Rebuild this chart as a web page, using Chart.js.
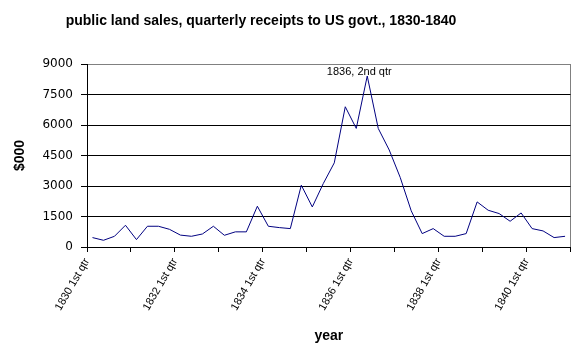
<!DOCTYPE html>
<html>
<head>
<meta charset="utf-8">
<script src="https://cdn.jsdelivr.net/npm/chart.js@4.4.1/dist/chart.umd.min.js"></script>
<style>
  html, body { margin: 0; padding: 0; background: #fff; }
  #wrap { width: 586px; height: 355px; }
</style>
</head>
<body>
<div id="wrap"><canvas id="c" width="586" height="355"></canvas></div>
<script>
// ---- data ----
const years = [1830, 1831, 1832, 1833, 1834, 1835, 1836, 1837, 1838, 1839, 1840];
const quarterNames = ['1st qtr', '2nd qtr', '3rd qtr', '4th qtr'];
const categories = [];
years.forEach(y => quarterNames.forEach(q => categories.push(y + ' ' + q)));

const receipts = [
  463, 330, 527, 1069,
  364, 1020, 1020, 870,
  585, 527, 640, 1020,
  576, 745, 745, 2005,
  1020, 954, 905, 3039,
  1970, 3120, 4138, 6897,
  5832, 8409, 5832, 4770,
  3420, 1780, 659, 905,
  527, 527, 659, 2217,
  1808, 1644, 1266, 1675,
  905, 790, 463, 527
];

const yTicks = [0, 1500, 3000, 4500, 6000, 7500, 9000];
const chartTitle = 'public land sales, quarterly receipts to US govt., 1830-1840';
const yTitle = '$000';
const xTitle = 'year';
const annotationText = '1836, 2nd qtr';
const annotationIndex = 25;

const points = receipts.map((v, i) => ({ x: i + 0.5, y: v }));

const titlePlugin = {
  id: 'titlePlugin',
  afterDraw(chart) {
    const ctx = chart.ctx;
    ctx.save();
    ctx.fillStyle = '#000';
    ctx.font = 'bold 14px "Liberation Sans", Arial, sans-serif';
    ctx.textAlign = 'center';
    ctx.textBaseline = 'alphabetic';
    ctx.fillText(chartTitle, 261, 25);
    // annotation near peak
    const xs = chart.scales.x, ys = chart.scales.y;
    const px = xs.getPixelForValue(annotationIndex + 0.5);
    const py = ys.getPixelForValue(receipts[annotationIndex]);
    ctx.font = '11px "Liberation Sans", Arial, sans-serif';
    ctx.fillText(annotationText, px - 8, py - 1);
    ctx.restore();
  }
};

new Chart(document.getElementById('c'), {
  type: 'line',
  data: {
    datasets: [{
      data: points,
      borderColor: '#000080',
      borderWidth: 1,
      pointRadius: 0,
      tension: 0,
      fill: false
    }]
  },
  options: {
    responsive: false,
    animation: false,
    devicePixelRatio: 1,
    layout: { padding: { top: 64, right: 4, left: 0, bottom: 0 } },
    plugins: {
      legend: { display: false },
      tooltip: { enabled: false },
      title: { display: false }
    },
    scales: {
      x: {
        type: 'linear',
        min: 0,
        max: categories.length,
        afterFit(s) { s.height = 108; },
        afterBuildTicks(s) {
          const t = [];
          for (let v = 0; v <= categories.length; v += 4) t.push({ value: v });
          s.ticks = t;
        },
        ticks: {
          autoSkip: false,
          minRotation: 60,
          maxRotation: 60,
          padding: 4,
          color: '#000',
          font: { family: '"Liberation Sans", Arial, sans-serif', size: 11 },
          callback(v) { return (v % 8 === 0 && v < categories.length) ? categories[v] : ''; }
        },
        grid: {
          color: c => (c.tick && c.tick.value === categories.length) ? '#808080' : 'rgba(0,0,0,0)',
          tickColor: '#000',
          tickLength: 5,
          lineWidth: 1
        },
        border: { color: '#000', width: 1 },
        title: {
          display: true,
          text: xTitle,
          color: '#000',
          font: { family: '"Liberation Sans", Arial, sans-serif', size: 14, weight: 'bold' },
          padding: { top: 0, bottom: 10 }
        }
      },
      y: {
        min: 0,
        max: 9000,
        afterFit(s) { s.width = 87; },
        afterBuildTicks(s) { s.ticks = yTicks.map(v => ({ value: v })); },
        ticks: {
          padding: 8,
          color: '#000',
          font: { family: '"DejaVu Sans", sans-serif', size: 12 },
          callback: v => String(v)
        },
        grid: {
          color: c => (c.tick && c.tick.value === 9000) ? '#808080' : '#000',
          tickColor: '#000',
          tickLength: 6,
          lineWidth: 1
        },
        border: { color: '#000', width: 1 },
        title: {
          display: true,
          text: yTitle,
          color: '#000',
          font: { family: '"Liberation Sans", Arial, sans-serif', size: 14, weight: 'bold' },
          padding: { top: 12, bottom: 0 }
        }
      }
    }
  },
  plugins: [titlePlugin]
});
</script>
</body>
</html>
